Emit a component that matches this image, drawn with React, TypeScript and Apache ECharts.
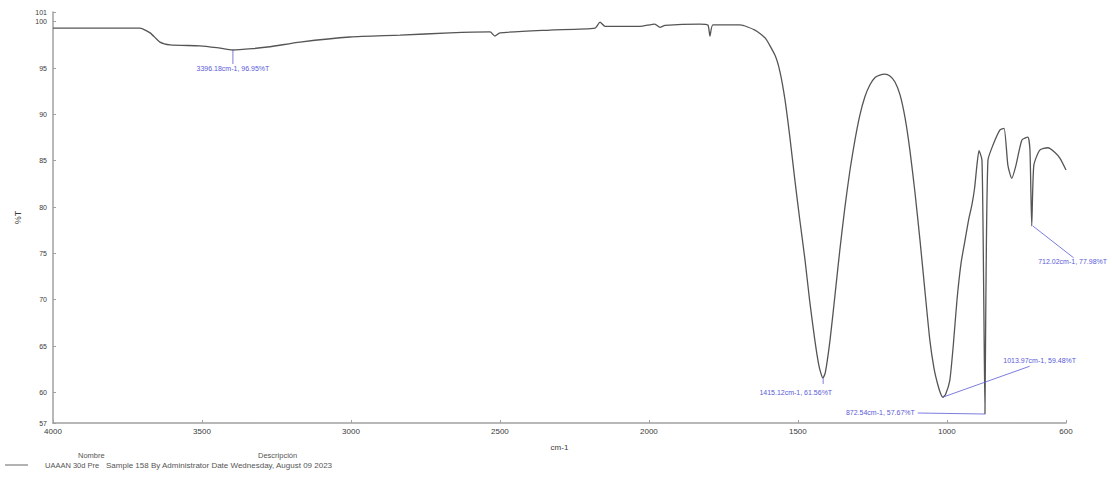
import React, { useEffect, useRef } from "react";
import * as echarts from "echarts";

const wavenumbers = [
  4000, 3842, 3708, 3674, 3641, 3607, 3507, 3450, 3396, 3330, 3272, 3171, 3003, 2835, 2668, 2533, 2517, 2500,
  2332, 2181, 2164, 2147, 2030, 1980, 1963, 1946, 1829, 1802, 1795, 1785, 1694, 1644, 1610, 1577, 1560,
  1543, 1527, 1510, 1493, 1476, 1460, 1443, 1430, 1422, 1416, 1408, 1392, 1375, 1359, 1342, 1325, 1308,
  1292, 1275, 1258, 1240, 1225, 1208, 1191, 1174, 1157, 1140, 1124, 1107, 1090, 1073, 1057, 1043, 1030,
  1020, 1013, 1004, 990, 978, 966, 952, 939, 927, 916, 907, 899, 892, 882, 876, 872, 869, 862, 845, 822,
  808, 795, 782, 768, 748, 728, 721, 715, 708, 688, 661, 637, 620, 600,
];
const transmittance = [
  99.32, 99.3, 99.3, 98.8, 97.8, 97.5, 97.4, 97.2, 96.95, 97.1, 97.3, 97.8, 98.35, 98.55, 98.8, 98.9, 98.45, 98.8,
  99.1, 99.3, 99.95, 99.5, 99.5, 99.75, 99.4, 99.6, 99.75, 99.65, 98.45, 99.65, 99.65, 99.1, 98.25, 96.4, 94.6,
  91.55, 87.6, 82.9, 78.5, 74.3, 69.8, 65.65, 63.0, 62.0, 61.56, 62.1, 65.65, 70.6, 75.4, 80.0, 84.0, 87.3,
  89.9, 91.9, 93.2, 94.0, 94.25, 94.35, 94.15, 93.5, 92.1, 89.6, 86.15, 81.6, 76.4, 70.8, 65.65, 62.6, 60.8,
  59.8, 59.48, 59.8, 61.3, 65.2, 69.95, 74.0, 76.4, 78.6, 80.2, 82.0, 84.5, 86.1, 85.05, 70.0, 57.67, 70.0,
  85.05, 86.7, 88.3, 88.5, 84.5, 83.1, 84.5, 87.25, 87.55, 86.15, 77.98, 84.5, 86.15, 86.4, 85.9, 85.25, 84.0,
];

const xTickValues = [4000, 3500, 3000, 2500, 2000, 1500, 1000, 600];
const yTickValues = [56.7, 60, 65, 70, 75, 80, 85, 90, 95, 100, 101.05];
const yTickLabels = ["57", "60", "65", "70", "75", "80", "85", "90", "95", "100", "101"];

const peakWavenumbers = [3396.18, 1415.12, 1013.97, 872.54, 712.02];
const peakTransmittance = [96.95, 61.56, 59.48, 57.67, 77.98];
const peakLabels = [
  "3396.18cm-1, 96.95%T",
  "1415.12cm-1, 61.56%T",
  "1013.97cm-1, 59.48%T",
  "872.54cm-1, 57.67%T",
  "712.02cm-1, 77.98%T",
];

const legendHeaderName = "Nombre";
const legendHeaderDescription = "Descripción";
const legendName = "UAAAN 30d Pre";
const legendDescription = "Sample 158 By Administrator Date Wednesday, August 09 2023";

const annotationLayout = [
  { lx: 0, ly: 14, tx: 0, ty: 19, align: "center" },
  { lx: 0, ly: 6, tx: 9, ty: 15, align: "right" },
  { lx: 87, ly: -31, tx: 97, ty: -37, align: "center" },
  { lx: -67, ly: -1, tx: -70, ty: -2, align: "right" },
  { lx: 41, ly: 32, tx: 40, ty: 36, align: "center" },
];

export default function App() {
  const ref = useRef<HTMLDivElement>(null);

  useEffect(() => {
    document.body.style.margin = "0";
    if (!ref.current) return;
    const chart = echarts.init(ref.current, undefined, { renderer: "svg" });
    const seriesData = wavenumbers.map((w, i) => [w, transmittance[i]]);
    const axisColor = "#a0a0a0";
    const labelColor = "#3a3a3a";
    const fontFamily = "Liberation Sans, Arial, sans-serif";

    chart.setOption({
      animation: false,
      backgroundColor: "#ffffff",
      grid: { left: 53, right: 46, top: 12, bottom: 54, containLabel: false, outerBoundsMode: "none" },
      xAxis: {
        type: "value",
        min: 600,
        max: 4000,
        inverse: true,
        name: "cm-1",
        nameLocation: "middle",
        nameGap: 20,
        nameTextStyle: { color: labelColor, fontSize: 8, fontFamily },
        axisLine: { show: true, lineStyle: { color: axisColor, width: 1.5 } },
        axisTick: { show: true, inside: true, length: 3, lineStyle: { color: axisColor }, customValues: xTickValues },
        axisLabel: {
          color: labelColor,
          fontSize: 8,
          fontFamily,
          margin: 4,
          customValues: xTickValues,
          showMinLabel: true,
          showMaxLabel: true,
          formatter: (v: number) => String(Math.round(v)),
        },
        splitLine: { show: false },
      },
      yAxis: {
        type: "value",
        min: 56.7,
        max: 101.05,
        name: "%T",
        nameLocation: "middle",
        nameGap: 31,
        nameRotate: 90,
        nameTextStyle: { color: labelColor, fontSize: 9, fontFamily },
        axisLine: { show: true, lineStyle: { color: axisColor, width: 1.5 } },
        axisTick: { show: true, inside: true, length: 3, lineStyle: { color: axisColor }, customValues: yTickValues },
        axisLabel: {
          color: labelColor,
          fontSize: 7,
          fontFamily,
          margin: 6,
          customValues: yTickValues,
          formatter: (v: number) => {
            const idx = yTickValues.findIndex((t) => Math.abs(t - v) < 1e-6);
            return idx >= 0 ? yTickLabels[idx] : "";
          },
        },
        splitLine: { show: false },
      },
      series: [
        {
          type: "line",
          data: seriesData,
          showSymbol: false,
          smooth: 0.2,
          lineStyle: { color: "#555555", width: 1.3 },
          z: 3,
        },
      ],
    });

    const graphics: any[] = [];
    const annColor = "#5a5ad8";
    peakWavenumbers.forEach((w, i) => {
      const [px, py] = chart.convertToPixel({ gridIndex: 0 }, [w, peakTransmittance[i]]) as number[];
      const L = annotationLayout[i];
      graphics.push({
        type: "line",
        shape: { x1: px, y1: py, x2: px + L.lx, y2: py + L.ly },
        style: { stroke: annColor, lineWidth: 0.8 },
        z: 10,
      });
      graphics.push({
        type: "text",
        x: px + L.tx,
        y: py + L.ty,
        style: {
          text: peakLabels[i],
          fill: annColor,
          fontSize: 7,
          fontFamily,
          align: L.align,
          verticalAlign: "middle",
        },
        z: 10,
      });
    });

    const legendColor = "#555555";
    graphics.push(
      { type: "text", x: 78, y: 455, style: { text: legendHeaderName, fill: legendColor, fontSize: 7.5, fontFamily, verticalAlign: "middle" } },
      { type: "text", x: 258, y: 455, style: { text: legendHeaderDescription, fill: legendColor, fontSize: 7.5, fontFamily, verticalAlign: "middle" } },
      { type: "line", shape: { x1: 5, y1: 465, x2: 28, y2: 465 }, style: { stroke: "#666666", lineWidth: 1 } },
      { type: "text", x: 45, y: 465, style: { text: legendName, fill: legendColor, fontSize: 7.5, fontFamily, verticalAlign: "middle" } },
      { type: "text", x: 106, y: 465, style: { text: legendDescription, fill: legendColor, fontSize: 8, fontFamily, verticalAlign: "middle" } }
    );

    chart.setOption({ graphic: graphics });

    return () => {
      chart.dispose();
    };
  }, []);

  return <div ref={ref} style={{ width: 1112, height: 477 }} />;
}
